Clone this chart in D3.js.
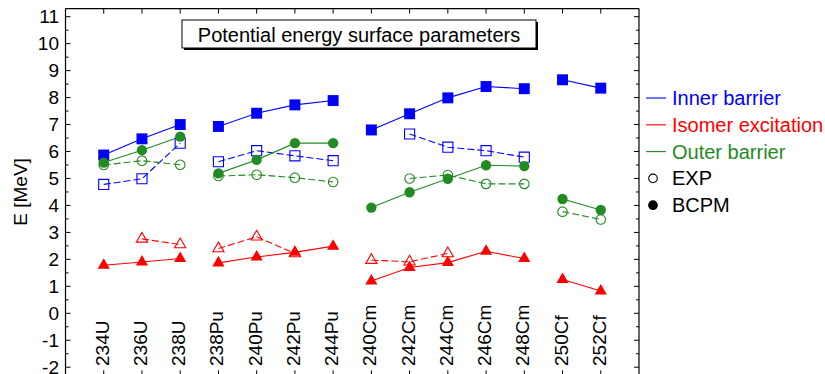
<!DOCTYPE html>
<html>
<head>
<meta charset="utf-8">
<script src="https://cdn.jsdelivr.net/npm/d3@7"></script>
<style>
  html, body { margin: 0; padding: 0; background: #fff; }
  svg { display: block; font-family: "Liberation Sans", Arial, Helvetica, sans-serif; }
</style>
</head>
<body>
<svg id="chart" width="825" height="374"></svg>
<script>
// Nuclei along the x axis, with the isotope chain each belongs to
const nuclei = ["234U", "236U", "238U", "238Pu", "240Pu", "242Pu", "244Pu",
                "240Cm", "242Cm", "244Cm", "246Cm", "248Cm", "250Cf", "252Cf"];
const chains = ["U", "U", "U", "Pu", "Pu", "Pu", "Pu",
                "Cm", "Cm", "Cm", "Cm", "Cm", "Cf", "Cf"];

// Energies in MeV (null = no value)
const innerBCPM   = [5.87, 6.47, 7.00, 6.93, 7.42, 7.73, 7.89, 6.80, 7.40, 7.99, 8.41, 8.33, 8.66, 8.35];
const innerEXP    = [4.78, 4.99, 6.31, 5.62, 6.03, 5.84, 5.66, null, 6.65, 6.16, 6.03, 5.79, null, null];
const outerBCPM   = [5.59, 6.05, 6.55, 5.19, 5.69, 6.31, 6.31, 3.92, 4.49, 4.99, 5.49, 5.46, 4.24, 3.83];
const outerEXP    = [5.50, 5.66, 5.51, 5.09, 5.14, 5.03, 4.87, null, 5.00, 5.13, 4.80, 4.80, 3.77, 3.48];
const isomerBCPM  = [1.78, 1.90, 2.03, 1.87, 2.09, 2.26, 2.49, 1.20, 1.70, 1.88, 2.30, 2.03, 1.25, 0.83];
const isomerEXP   = [null, 2.76, 2.55, 2.40, 2.84, 2.22, null, 1.97, 1.91, 2.22, null, null, null, null];

const yTicks = [-2, -1, 0, 1, 2, 3, 4, 5, 6, 7, 8, 9, 10, 11];

const blue = "#0000ff", red = "#ff0000", green = "#228b22";

const series = [
  { values: innerBCPM,  color: blue,  marker: "square",   filled: true  },
  { values: innerEXP,   color: blue,  marker: "square",   filled: false },
  { values: isomerBCPM, color: red,   marker: "triangle", filled: true  },
  { values: isomerEXP,  color: red,   marker: "triangle", filled: false },
  { values: outerBCPM,  color: green, marker: "circle",   filled: true  },
  { values: outerEXP,   color: green, marker: "circle",   filled: false }
];

const legendItems = [
  { label: "Inner barrier",      color: blue,  kind: "line" },
  { label: "Isomer excitation",  color: red,   kind: "line" },
  { label: "Outer barrier",      color: green, kind: "line" },
  { label: "EXP",                color: "#000", kind: "open" },
  { label: "BCPM",               color: "#000", kind: "filled" }
];

const svg = d3.select("#chart");

const x = d3.scaleLinear().domain([0, nuclei.length + 1]).range([65.5, 639]);
const y = d3.scaleLinear().domain([0, 11]).range([313.3, 16.7]);
const yTop = 11.3, yBottom = -2.3;

const fLeft = x(0), fRight = x(nuclei.length + 1);
const fTop = y(yTop), fBottom = y(yBottom);

// Frame
const frame = svg.append("g").attr("stroke", "#000").attr("stroke-width", 1.2);
frame.append("line").attr("x1", fLeft).attr("x2", fLeft).attr("y1", fTop).attr("y2", fBottom);
frame.append("line").attr("x1", fRight).attr("x2", fRight).attr("y1", fTop).attr("y2", fBottom);
frame.append("line").attr("x1", fLeft).attr("x2", fRight).attr("y1", fTop).attr("y2", fTop);
frame.append("line").attr("x1", fLeft).attr("x2", fRight).attr("y1", fBottom).attr("y2", fBottom);

// Y ticks (major every 1 MeV, minor every 0.5 MeV) on both sides, pointing inward
const minor = d3.range(-2, 11.01, 0.5).filter(v => !yTicks.includes(v));
const tickG = svg.append("g").attr("stroke", "#000").attr("stroke-width", 1);
yTicks.forEach(v => {
  tickG.append("line").attr("x1", fLeft).attr("x2", fLeft + 5).attr("y1", y(v)).attr("y2", y(v));
  tickG.append("line").attr("x1", fRight).attr("x2", fRight - 5).attr("y1", y(v)).attr("y2", y(v));
});
minor.forEach(v => {
  tickG.append("line").attr("x1", fLeft).attr("x2", fLeft + 3).attr("y1", y(v)).attr("y2", y(v));
  tickG.append("line").attr("x1", fRight).attr("x2", fRight - 3).attr("y1", y(v)).attr("y2", y(v));
});
// X ticks at each nucleus, top and bottom
nuclei.forEach((n, i) => {
  tickG.append("line").attr("x1", x(i + 1)).attr("x2", x(i + 1)).attr("y1", fTop).attr("y2", fTop + 5);
  tickG.append("line").attr("x1", x(i + 1)).attr("x2", x(i + 1)).attr("y1", fBottom).attr("y2", fBottom - 5);
});

// Y tick labels
svg.append("g").selectAll("text").data(yTicks).join("text")
  .attr("x", 59).attr("y", d => y(d))
  .attr("text-anchor", "end").attr("dominant-baseline", "central")
  .attr("font-size", 19).text(d => d);

// Y axis title
svg.append("text")
  .attr("transform", `translate(20,${y(4.5)}) rotate(-90)`)
  .attr("text-anchor", "middle").attr("dominant-baseline", "central")
  .attr("font-size", 19).text("E [MeV]");

// Nucleus labels, rotated
svg.append("g").selectAll("text").data(nuclei).join("text")
  .attr("transform", (d, i) => `translate(${x(i + 1) - 1.5},366) rotate(-90)`)
  .attr("text-anchor", "start").attr("dominant-baseline", "central")
  .attr("font-size", 19).text(d => d);

// Series lines, broken between isotope chains
const plot = svg.append("g");
series.forEach(s => {
  const pts = s.values.map((v, i) => ({ i, v, chain: chains[i] }));
  const byChain = d3.groups(pts, d => d.chain);
  const line = d3.line().defined(d => d.v != null).x(d => x(d.i + 1)).y(d => y(d.v));
  byChain.forEach(([, arr]) => {
    plot.append("path").attr("d", line(arr))
      .attr("fill", "none").attr("stroke", s.color).attr("stroke-width", 1.1)
      .attr("stroke-dasharray", s.filled ? null : "7,3");
  });
});

// Markers
const symbolOf = { square: d3.symbolSquare, triangle: d3.symbolTriangle, circle: d3.symbolCircle };
const sizeOf = { square: 120, triangle: 64, circle: 84 };
series.forEach(s => {
  const sym = d3.symbol().type(symbolOf[s.marker]).size(s.filled ? sizeOf[s.marker] : sizeOf[s.marker] * 0.85);
  const pts = s.values.map((v, i) => ({ i, v })).filter(d => d.v != null);
  plot.append("g").selectAll("path").data(pts).join("path")
    .attr("transform", d => `translate(${x(d.i + 1)},${y(d.v)})`)
    .attr("d", sym)
    .attr("fill", s.filled ? s.color : "none")
    .attr("stroke", s.color).attr("stroke-width", s.filled ? 0 : 1.1);
});

// Title box with drop shadow
const tb = { x: 182, y: 20, w: 354, h: 28 };
svg.append("rect").attr("x", tb.x + 2).attr("y", tb.y + 2).attr("width", tb.w).attr("height", tb.h)
  .attr("fill", "#000");
svg.append("rect").attr("x", tb.x).attr("y", tb.y).attr("width", tb.w).attr("height", tb.h)
  .attr("fill", "#fff").attr("stroke", "#000").attr("stroke-width", 1);
svg.append("text").attr("x", tb.x + tb.w / 2).attr("y", tb.y + tb.h / 2 + 1)
  .attr("text-anchor", "middle").attr("dominant-baseline", "central")
  .attr("font-size", 20).text("Potential energy surface parameters");

// Legend
const lg = svg.append("g").attr("transform", "translate(646,98)");
legendItems.forEach((d, k) => {
  const g = lg.append("g").attr("transform", `translate(0,${k * 26.8})`);
  if (d.kind === "line") {
    g.append("line").attr("x1", 0).attr("x2", 20).attr("y1", 0).attr("y2", 0)
      .attr("stroke", d.color).attr("stroke-width", 1.1);
  } else {
    g.append("circle").attr("cx", 7).attr("cy", 0).attr("r", 4.3)
      .attr("fill", d.kind === "filled" ? "#000" : "none")
      .attr("stroke", "#000").attr("stroke-width", 1.1);
  }
  g.append("text").attr("x", 26).attr("y", 0).attr("dominant-baseline", "central")
    .attr("font-size", 20).attr("fill", d.color).text(d.label);
});
</script>
</body>
</html>
